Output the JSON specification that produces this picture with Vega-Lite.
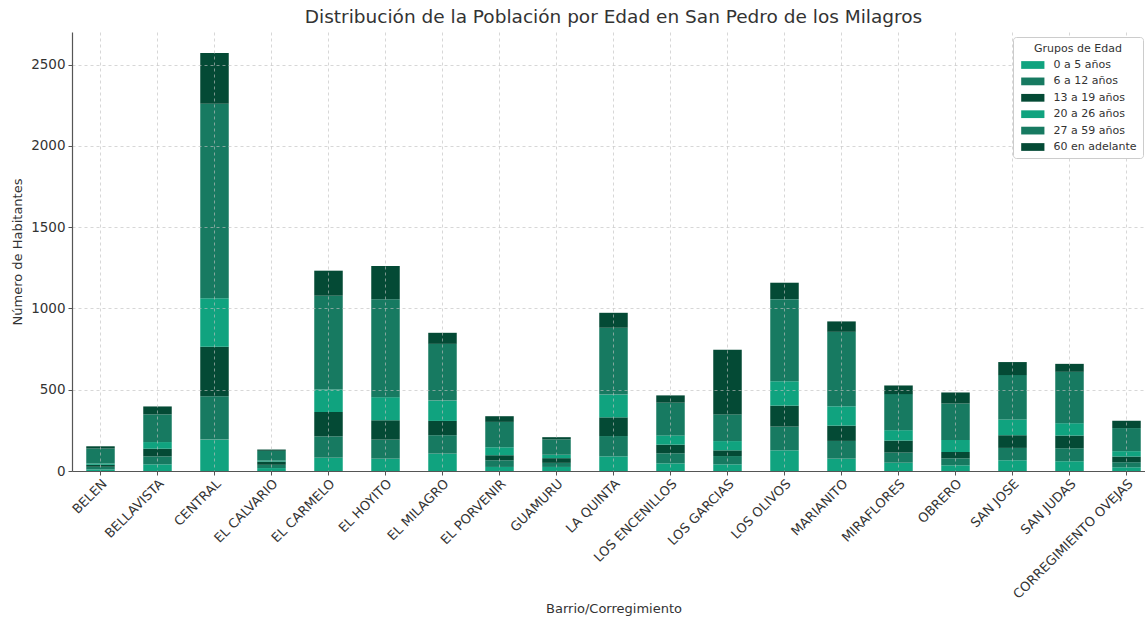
{
  "$schema": "https://vega.github.io/schema/vega-lite/v6.json",
  "autosize": "none",
  "padding": {"left": 72, "top": 32, "right": 0, "bottom": 147},
  "width": 1083,
  "height": 439,
  "background": "white",
  "title": {"text": "Distribución de la Población por Edad en San Pedro de los Milagros", "font": "DejaVu Sans", "fontSize": 18.5, "fontWeight": "normal", "color": "#333333", "anchor": "middle", "offset": 6},
  "config": {"view": {"stroke": null}, "font": "DejaVu Sans"},
  "datasets": {
    "grupos": [
      {"grupo": "0 a 5 años", "orden": 1},
      {"grupo": "6 a 12 años", "orden": 2},
      {"grupo": "13 a 19 años", "orden": 3},
      {"grupo": "20 a 26 años", "orden": 4},
      {"grupo": "27 a 59 años", "orden": 5},
      {"grupo": "60 en adelante", "orden": 6}
    ]
  },
  "data": {"values": [
    {"barrio": "BELEN", "0 a 5 años": 10, "6 a 12 años": 16, "13 a 19 años": 12, "20 a 26 años": 8, "27 a 59 años": 92, "60 en adelante": 14},
    {"barrio": "BELLAVISTA", "0 a 5 años": 41, "6 a 12 años": 49, "13 a 19 años": 47, "20 a 26 años": 41, "27 a 59 años": 170, "60 en adelante": 49},
    {"barrio": "CENTRAL", "0 a 5 años": 193, "6 a 12 años": 267, "13 a 19 años": 304, "20 a 26 años": 298, "27 a 59 años": 1197, "60 en adelante": 312},
    {"barrio": "EL CALVARIO", "0 a 5 años": 18, "6 a 12 años": 20, "13 a 19 años": 20, "20 a 26 años": 6, "27 a 59 años": 60, "60 en adelante": 8},
    {"barrio": "EL CARMELO", "0 a 5 años": 82, "6 a 12 años": 131, "13 a 19 años": 150, "20 a 26 años": 138, "27 a 59 años": 577, "60 en adelante": 154},
    {"barrio": "EL HOYITO", "0 a 5 años": 76, "6 a 12 años": 117, "13 a 19 años": 119, "20 a 26 años": 142, "27 a 59 años": 602, "60 en adelante": 205},
    {"barrio": "EL MILAGRO", "0 a 5 años": 107, "6 a 12 años": 113, "13 a 19 años": 88, "20 a 26 años": 125, "27 a 59 años": 349, "60 en adelante": 68},
    {"barrio": "EL PORVENIR", "0 a 5 años": 25, "6 a 12 años": 41, "13 a 19 años": 31, "20 a 26 años": 49, "27 a 59 años": 156, "60 en adelante": 35},
    {"barrio": "GUAMURU", "0 a 5 años": 25, "6 a 12 años": 25, "13 a 19 años": 29, "20 a 26 años": 21, "27 a 59 años": 94, "60 en adelante": 14},
    {"barrio": "LA QUINTA", "0 a 5 años": 90, "6 a 12 años": 125, "13 a 19 años": 115, "20 a 26 años": 140, "27 a 59 años": 411, "60 en adelante": 92},
    {"barrio": "LOS ENCENILLOS", "0 a 5 años": 47, "6 a 12 años": 62, "13 a 19 años": 53, "20 a 26 años": 57, "27 a 59 años": 201, "60 en adelante": 45},
    {"barrio": "LOS GARCIAS", "0 a 5 años": 41, "6 a 12 años": 51, "13 a 19 años": 35, "20 a 26 años": 57, "27 a 59 años": 164, "60 en adelante": 398},
    {"barrio": "LOS OLIVOS", "0 a 5 años": 127, "6 a 12 años": 146, "13 a 19 años": 129, "20 a 26 años": 150, "27 a 59 años": 505, "60 en adelante": 101},
    {"barrio": "MARIANITO", "0 a 5 años": 76, "6 a 12 años": 109, "13 a 19 años": 94, "20 a 26 años": 119, "27 a 59 años": 458, "60 en adelante": 64},
    {"barrio": "MIRAFLORES", "0 a 5 años": 51, "6 a 12 años": 62, "13 a 19 años": 74, "20 a 26 años": 64, "27 a 59 años": 222, "60 en adelante": 53},
    {"barrio": "OBRERO", "0 a 5 años": 35, "6 a 12 años": 43, "13 a 19 años": 39, "20 a 26 años": 74, "27 a 59 años": 224, "60 en adelante": 68},
    {"barrio": "SAN JOSE", "0 a 5 años": 66, "6 a 12 años": 76, "13 a 19 años": 78, "20 a 26 años": 97, "27 a 59 años": 273, "60 en adelante": 80},
    {"barrio": "SAN JUDAS", "0 a 5 años": 60, "6 a 12 años": 80, "13 a 19 años": 78, "20 a 26 años": 76, "27 a 59 años": 316, "60 en adelante": 49},
    {"barrio": "CORREGIMIENTO OVEJAS", "0 a 5 años": 23, "6 a 12 años": 31, "13 a 19 años": 35, "20 a 26 años": 33, "27 a 59 años": 142, "60 en adelante": 45}
  ]},
  "transform": [
    {"fold": ["0 a 5 años", "6 a 12 años", "13 a 19 años", "20 a 26 años", "27 a 59 años", "60 en adelante"], "as": ["grupo", "n"]},
    {"lookup": "grupo", "from": {"data": {"name": "grupos"}, "key": "grupo", "fields": ["orden"]}}
  ],
  "mark": {"type": "bar"},
  "encoding": {
    "x": {
      "field": "barrio", "type": "nominal", "sort": null,
      "scale": {"paddingInner": 0.5, "paddingOuter": 0.25},
      "axis": {
        "title": "Barrio/Corregimiento", "titleFont": "DejaVu Sans", "titleFontSize": 13, "titleFontWeight": "normal", "titleColor": "#333333", "titleY": 137, "titleBaseline": "middle",
        "labelAngle": -45, "labelAlign": "right", "labelBaseline": "top", "labelFont": "DejaVu Sans", "labelFontSize": 13, "labelColor": "#333333", "labelPadding": 2,
        "domainColor": "#555555", "domainWidth": 1.2, "tickColor": "#555555", "tickSize": 4,
        "grid": true, "gridColor": "#c0c0c0", "gridDash": [3, 3], "gridWidth": 0.8, "gridOpacity": 0.8, "zindex": 1
      }
    },
    "y": {
      "field": "n", "type": "quantitative", "aggregate": "sum",
      "scale": {"domain": [0, 2700], "nice": false},
      "axis": {
        "title": "Número de Habitantes", "titleFont": "DejaVu Sans", "titleFontSize": 13, "titleFontWeight": "normal", "titleColor": "#333333", "titlePadding": 6,
        "values": [0, 500, 1000, 1500, 2000, 2500], "format": "d", "labelFont": "DejaVu Sans", "labelFontSize": 13.5, "labelColor": "#333333", "labelPadding": 3,
        "domainColor": "#555555", "domainWidth": 1.2, "tickColor": "#555555", "tickSize": 4,
        "grid": true, "gridColor": "#c0c0c0", "gridDash": [3, 3], "gridWidth": 0.8, "gridOpacity": 0.8, "zindex": 1
      }
    },
    "color": {
      "field": "grupo", "type": "nominal",
      "scale": {
        "domain": ["0 a 5 años", "6 a 12 años", "13 a 19 años", "20 a 26 años", "27 a 59 años", "60 en adelante"],
        "range": ["#10a37f", "#177a61", "#044a35", "#10a37f", "#177a61", "#044a35"]
      },
      "legend": {
        "title": "Grupos de Edad", "orient": "none", "legendX": 941, "legendY": 5, "zindex": 3,
        "titleFont": "DejaVu Sans", "titleFontSize": 11, "titleFontWeight": "normal", "titleColor": "#333333", "titleAnchor": "middle", "titlePadding": 3,
        "labelFont": "DejaVu Sans", "labelFontSize": 11, "labelColor": "#333333", "labelOffset": 18.5,
        "symbolType": "M-0.75,-0.5H2.25V0.5H-0.75Z", "symbolSize": 240, "symbolStrokeWidth": 0, "symbolOpacity": 1,
        "rowPadding": 3.4, "padding": 6, "strokeColor": "#cccccc", "fillColor": "white", "cornerRadius": 3
      }
    },
    "order": {"field": "orden", "type": "quantitative", "sort": "ascending"}
  }
}
